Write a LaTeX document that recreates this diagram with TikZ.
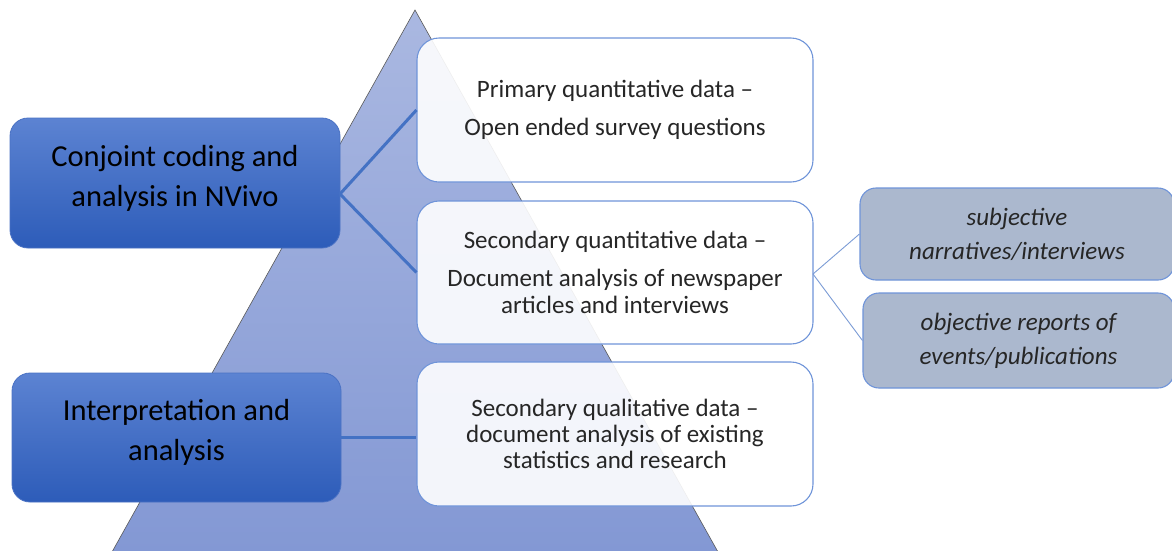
\documentclass[tikz,border=0pt]{standalone}
\usepackage{fontspec}
\setmainfont{Carlito}
\begin{document}
\begin{tikzpicture}[x=1pt,y=-1pt,
  leftbox/.style={rectangle, rounded corners=18pt, draw=lbdraw, line width=0.8pt,
    top color=lbtop, bottom color=lbbot, inner sep=0pt},
  lefttext/.style={text=black, align=center,
    font=\fontsize{30.5}{40}\selectfont, inner sep=0pt},
  databox/.style={rectangle, rounded corners=22pt, draw=bxdraw, line width=1.1pt,
    fill=white, fill opacity=0.9, text opacity=1, text=black!85, align=center,
    inner sep=0pt},
  subbox/.style={rectangle, rounded corners=16pt, draw=bxdraw, line width=1.1pt,
    fill=sbfill, text=black!85, align=center,
    font=\itshape\fontsize{25}{34}\selectfont, inner sep=0pt},
  thick link/.style={draw=lnk, line width=3pt},
  thin link/.style={draw=lnk!70, line width=0.9pt}]
\definecolor{lbtop}{HTML}{5C83D2}
\definecolor{lbbot}{HTML}{2D5CB9}
\definecolor{lbdraw}{HTML}{4A72C4}
\definecolor{bxdraw}{HTML}{6F94D9}
\definecolor{sbfill}{HTML}{ABB8CE}
\definecolor{lnk}{HTML}{4472C4}
\definecolor{tritop}{HTML}{AAB8E1}
\definecolor{tribot}{HTML}{8398D4}

% canvas
\path[use as bounding box, fill=white] (0,0) rectangle (1172,550);

% pyramid in the background
\begin{scope}
  \clip (0,0) rectangle (1172,550);
  \shade[top color=tritop, bottom color=tribot, draw=gray!70!black, line width=0.6pt]
    (415,10) -- (718,552) -- (112,552) -- cycle;
\end{scope}

% left boxes and their captions
\node[leftbox, minimum width=330pt, minimum height=130pt] (cc) at (175,183) {};
\node[lefttext] (cctext) at (175,178.5) {Conjoint coding and\\analysis in NVivo};
\node[leftbox, minimum width=329pt, minimum height=129pt] (ia) at (176.5,437.5) {};
\node[lefttext] (iatext) at (176.5,432.5) {Interpretation and\\analysis};

% data boxes
\node[databox, minimum width=396pt, minimum height=144pt, font=\fontsize{25}{38}\selectfont]
  (pq) at (615,110) {Primary quantitative data --\\Open ended survey questions};
\node[databox, minimum width=396pt, minimum height=143pt, font=\fontsize{25}{27}\selectfont]
  (sq) at (615,272.5) {Secondary quantitative data --\\[11pt]Document analysis of newspaper\\articles and interviews};
\node[databox, minimum width=396pt, minimum height=144pt, font=\fontsize{25}{26}\selectfont]
  (sl) at (615,434) {Secondary qualitative data --\\document analysis of existing\\statistics and research};

% sub-category boxes
\node[subbox, minimum width=314pt, minimum height=92pt] (sn) at (1017,234)
  {subjective\\narratives/interviews};
\node[subbox, minimum width=311pt, minimum height=95pt] (or) at (1018.5,340.5)
  {objective reports of\\events/publications};

% connectors
\coordinate (ccr) at (340,194);
\draw[thick link] (ccr) -- (pq.west);
\draw[thick link] (ccr) -- (sq.west);
\draw[thick link] (ia.east) -- (ia.east -| sl.west);
\coordinate (sqr) at (813,274);
\draw[thin link] (sqr) -- (sn.west);
\draw[thin link] (sqr) -- (or.west);
\end{tikzpicture}
\end{document}
